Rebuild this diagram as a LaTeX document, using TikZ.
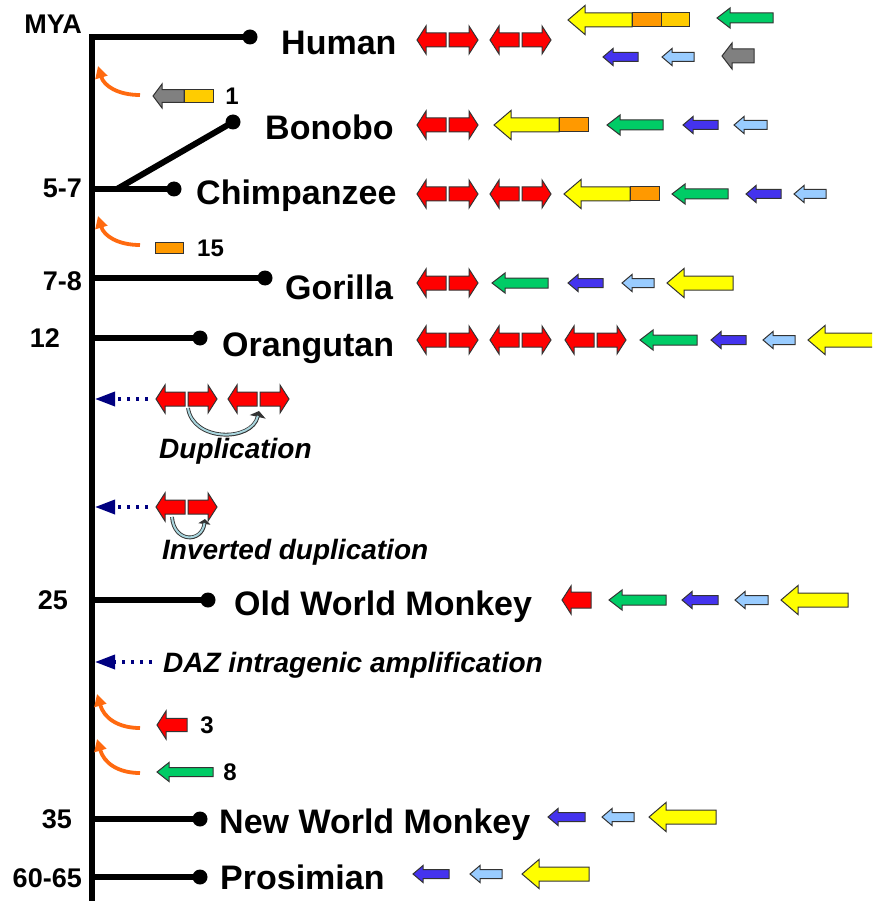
\documentclass[tikz,border=0pt]{standalone}
\usepackage{fontspec}
\setmainfont{Liberation Sans}
\usetikzlibrary{arrows.meta}
\definecolor{cred}{HTML}{FF0000}
\definecolor{cyel}{HTML}{FFFF00}
\definecolor{corg}{HTML}{FF9900}
\definecolor{cgld}{HTML}{FFCC00}
\definecolor{cgrn}{HTML}{00CC66}
\definecolor{cblu}{HTML}{4433EE}
\definecolor{clbl}{HTML}{99CCFF}
\definecolor{cgry}{HTML}{808080}
\definecolor{corc}{HTML}{FF6A10}
\definecolor{cnavy}{HTML}{000080}
\definecolor{carc}{HTML}{A9D6DE}
\tikzset{
  gene/.style={draw=black!80, line width=1pt, line join=miter},
  trunk/.style={line width=6pt, line join=miter, line cap=butt},
  branch/.style={line width=6pt, line cap=butt},
  sp/.style={inner sep=0pt, font=\fontsize{34}{40}\selectfont\bfseries},
  num/.style={inner sep=0pt, font=\fontsize{27}{32}\selectfont\bfseries},
  small/.style={inner sep=0pt, font=\fontsize{24}{28}\selectfont\bfseries},
  ital/.style={inner sep=0pt, font=\fontsize{28}{33}\selectfont\bfseries\itshape},
  orcurve/.style={draw=corc, line width=3.8pt, -{Triangle[length=12pt,width=12pt]}},
  dotarrow/.style={draw=cnavy, line width=3.5pt, dash pattern=on 3.5pt off 5.5pt, -{Triangle[length=20pt,width=14pt]}},
  arcout/.style={draw=black!80, line width=3.8pt},
  arcin/.style={draw=carc, line width=2pt}
}
% left-pointing gene: tip, tail, y, body half, head half, head length, colour
\newcommand\gL[7]{\filldraw[gene, fill=#7] (#1,#3) -- ({#1+#6},{#3-#5}) -- ({#1+#6},{#3-#4}) -- (#2,{#3-#4}) -- (#2,{#3+#4}) -- ({#1+#6},{#3+#4}) -- ({#1+#6},{#3+#5}) -- cycle;}
% right-pointing gene: tail, tip, y, body half, head half, head length, colour
\newcommand\gR[7]{\filldraw[gene, fill=#7] (#2,#3) -- ({#2-#6},{#3-#5}) -- ({#2-#6},{#3-#4}) -- (#1,{#3-#4}) -- (#1,{#3+#4}) -- ({#2-#6},{#3+#4}) -- ({#2-#6},{#3+#5}) -- cycle;}
\newcommand\gBox[5]{\filldraw[gene, fill=#5] (#1,{#3-#4}) rectangle (#2,{#3+#4});}
\newcommand\gyel[3]{\gL{#1}{#2}{#3}{7}{14.5}{17}{cyel}}
\newcommand\ggrn[3]{\gL{#1}{#2}{#3}{5}{10}{13}{cgrn}}
\newcommand\gblu[3]{\gL{#1}{#2}{#3}{4.5}{8.5}{10}{cblu}}
\newcommand\glbl[3]{\gL{#1}{#2}{#3}{4.5}{8.5}{10}{clbl}}
\newcommand\rpair[2]{\gL{#1}{#1+29}{#2}{7}{14}{9}{cred}\gR{#1+32}{#1+61}{#2}{7}{14}{9}{cred}}
\begin{document}
\begin{tikzpicture}[x=1pt,y=-1pt]
\path[use as bounding box, fill=white] (0,0) rectangle (872,901);

% ---------- tree ----------
\coordinate (top) at (92,37);
\coordinate (bottom) at (92,901);
\coordinate (dHuman) at (250,37);
\coordinate (jChimp) at (92,189);
\coordinate (split) at (117,189);
\coordinate (dBonobo) at (233,122);
\coordinate (dChimp) at (174,189);
\coordinate (jGorilla) at (92,278);
\coordinate (dGorilla) at (265,278);
\coordinate (jOrang) at (92,338);
\coordinate (dOrang) at (200,338);
\coordinate (jOWM) at (92,600);
\coordinate (dOWM) at (208,600);
\coordinate (jNWM) at (92,819);
\coordinate (dNWM) at (200,819);
\coordinate (jPro) at (92,877);
\coordinate (dPro) at (200,877);

\draw[trunk] (dHuman) -- (top) -- (bottom);
\draw[branch] (jChimp) -- (dChimp);
\draw[branch, line cap=round] (split) -- (dBonobo);
\draw[branch] (jGorilla) -- (dGorilla);
\draw[branch] (jOrang) -- (dOrang);
\draw[branch] (jOWM) -- (dOWM);
\draw[branch] (jNWM) -- (dNWM);
\draw[branch] (jPro) -- (dPro);
\foreach \d in {dHuman,dBonobo,dChimp,dGorilla,dOrang,dOWM,dNWM,dPro}
  \fill (\d) circle (7.5);

% ---------- age labels ----------
\node[num, anchor=east] (mya) at (82,24) {MYA};
\node[num, anchor=east] (a57) at (82,188) {5-7};
\node[num, anchor=east] (a78) at (82,281) {7-8};
\node[num] (a12) at (45,338) {12};
\node[num] (a25) at (53,600) {25};
\node[num] (a35) at (57,819) {35};
\node[num, anchor=east] (a6065) at (82,878) {60-65};

% ---------- species labels ----------
\node[sp, anchor=base west] (human) at (281,55) {Human};
\node[sp, anchor=base west] (bonobo) at (265,140) {Bonobo};
\node[sp, anchor=base west] (chimp) at (196,205) {Chimpanzee};
\node[sp, anchor=base west] (gorilla) at (285,299) {Gorilla};
\node[sp, anchor=base west] (orang) at (222,356) {Orangutan};
\node[sp, anchor=base west] (owm) at (234,615) {Old World Monkey};
\node[sp, anchor=base west] (nwm) at (219,833) {New World Monkey};
\node[sp, anchor=base west] (pro) at (220,889) {Prosimian};

% ---------- gene rows ----------
% Human
\rpair{417}{40}\rpair{490}{40}
\gyel{568}{632}{20}\gBox{632}{661}{20}{7}{corg}\gBox{661}{689}{20}{7}{cgld}
\ggrn{717}{773}{18}
\gblu{603}{638}{57}\glbl{662}{694}{57}\gL{722}{754}{56}{7}{13}{10}{cgry}
% Bonobo
\rpair{417}{125}
\gyel{494}{559}{125}\gBox{559}{588}{125}{7}{corg}
\ggrn{607}{663}{125}\gblu{683}{718}{125}\glbl{734}{767}{125}
% Chimpanzee
\rpair{417}{194}\rpair{490}{194}
\gyel{564}{630}{194}\gBox{630}{659}{194}{7}{corg}
\ggrn{672}{728}{194}\gblu{746}{781}{194}\glbl{794}{826}{194}
% Gorilla
\rpair{417}{283}
\ggrn{492}{548}{283}\gblu{568}{603}{283}\glbl{622}{654}{283}\gyel{667}{733}{283}
% Orangutan
\rpair{417}{340}\rpair{490}{340}\rpair{565}{340}
\ggrn{640}{697}{340}\gblu{711}{746}{340}\glbl{763}{795}{340}
\begin{scope}
\clip (0,0) rectangle (872,901);
\gyel{808}{880}{340}
\end{scope}
% Old World Monkey
\gL{562}{591}{600}{8}{14}{9}{cred}
\ggrn{609}{666}{600}\gblu{682}{718}{600}\glbl{735}{768}{600}\gyel{781}{848}{600}
% New World Monkey
\gblu{548}{585}{817}\glbl{602}{634}{817}\gyel{649}{716}{817}
% Prosimian
\gblu{413}{449}{874}\glbl{470}{502}{874}\gyel{522}{589}{874}

% ---------- events ----------
% gene gain "1"
\gL{153}{184}{96}{6.3}{12}{9}{cgry}\gBox{184}{213}{96}{6.3}{cgld}
\node[small] (n1) at (232,96) {1};
\coordinate (o1s) at (140,95); \coordinate (o1e) at (98,66);
\draw[orcurve] (o1s) .. controls (118,95) and (104,86) .. (o1e);
% "15"
\gBox{155}{183}{247.5}{5.5}{corg}
\node[small, anchor=west] (n15) at (197,248) {15};
\coordinate (o2s) at (140,245); \coordinate (o2e) at (98,216);
\draw[orcurve] (o2s) .. controls (118,245) and (104,236) .. (o2e);
% "3"
\gL{157}{187}{725}{6.7}{14}{9}{cred}
\node[small] (n3) at (207,725) {3};
\coordinate (o3s) at (140,728); \coordinate (o3e) at (97,694);
\draw[orcurve] (o3s) .. controls (118,728) and (104,718) .. (o3e);
% "8"
\gL{157}{213}{772}{4.5}{9.5}{12}{cgrn}
\node[small] (n8) at (230,772) {8};
\coordinate (o4s) at (140,773); \coordinate (o4e) at (97,739);
\draw[orcurve] (o4s) .. controls (118,773) and (104,763) .. (o4e);

% duplication
\coordinate (p1s) at (148,399); \coordinate (p1e) at (95,399);
\draw[dotarrow] (p1s) -- (p1e);
\rpair{156}{399}\rpair{228}{399}
\coordinate (c1s) at (188,408); \coordinate (c1e) at (259,411);
\draw[arcout, -{Triangle[length=6pt,width=16pt]}] (c1s) .. controls (193,442) and (252,442) .. (c1e);
\draw[arcin, shorten >=5pt] (c1s) .. controls (193,442) and (252,442) .. (c1e);
\node[ital, anchor=base west] (dup) at (159,458) {Duplication};

% inverted duplication
\coordinate (p2s) at (148,507); \coordinate (p2e) at (95,507);
\draw[dotarrow] (p2s) -- (p2e);
\rpair{156}{507}
\coordinate (c2s) at (172,517); \coordinate (c2e) at (205,519);
\draw[arcout, -{Triangle[length=5pt,width=12pt]}] (c2s) .. controls (174,543) and (202,543) .. (c2e);
\draw[arcin, shorten >=4pt] (c2s) .. controls (174,543) and (202,543) .. (c2e);
\node[ital, anchor=base west] (invdup) at (162,559) {Inverted duplication};

% DAZ amplification
\coordinate (p3s) at (152,662); \coordinate (p3e) at (95,662);
\draw[dotarrow] (p3s) -- (p3e);
\node[ital, anchor=base west] (daz) at (163,672) {DAZ intragenic amplification};
\end{tikzpicture}
\end{document}
